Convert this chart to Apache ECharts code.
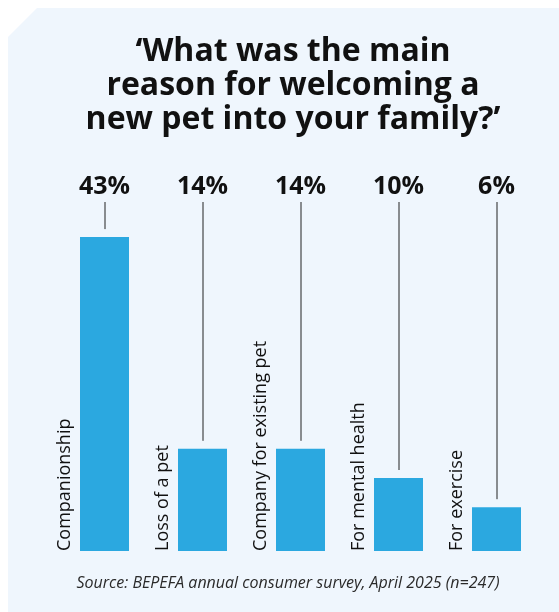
<!DOCTYPE html>
<html>
<head>
<meta charset="utf-8">
<script src="https://cdn.jsdelivr.net/npm/echarts@6/dist/echarts.min.js"></script>
<style>
html,body{margin:0;padding:0;background:#ffffff;}
#chart{width:559px;height:612px;}
</style>
</head>
<body>
<div id="chart"></div>
<script>
var titleLines = ["‘What was the main", "reason for welcoming a", "new pet into your family?’"];
var categories = ["Companionship", "Loss of a pet", "Company for existing pet", "For mental health", "For exercise"];
var values = [43, 14, 14, 10, 6];
var valueLabels = ["43%", "14%", "14%", "10%", "6%"];
var sourceText = "Source: BEPEFA annual consumer survey, April 2025 (n=247)";

var AXIS_MAX = 50;
var chart = echarts.init(document.getElementById('chart'), null, {renderer: 'canvas'});

var customData = values.map(function (v, i) { return [i, v]; });

var option = {
  backgroundColor: '#ffffff',
  animation: false,
  graphic: [
    {
      type: 'polygon',
      z: -10,
      shape: { points: [[8, 37], [37, 8], [559, 8], [559, 612], [8, 612]] },
      style: { fill: '#eff6fd' }
    },
    {
      type: 'text',
      x: 288, y: 583,
      style: {
        text: sourceText,
        font: 'italic 16px "Open Sans"',
        fill: '#2a2a2a',
        align: 'center',
        verticalAlign: 'middle',
        textAlign: 'center',
        textVerticalAlign: 'middle'
      }
    }
  ],
  title: {
    text: titleLines.join('\n'),
    left: 288,
    top: 30,
    textAlign: 'center',
    textStyle: {
      fontFamily: 'Open Sans',
      fontWeight: 'bold',
      fontSize: 32,
      lineHeight: 34,
      color: '#111111'
    }
  },
  grid: { left: 55.5, right: 13.5, top: 186, bottom: 61, containLabel: false },
  xAxis: {
    type: 'category',
    data: categories,
    axisLine: { show: false },
    axisTick: { show: false },
    axisLabel: { show: false },
    splitLine: { show: false }
  },
  yAxis: {
    type: 'value',
    min: 0,
    max: AXIS_MAX,
    show: false
  },
  series: [
    {
      type: 'bar',
      data: values,
      barWidth: '50%',
      itemStyle: { color: '#2ba8e0' },
      silent: true
    },
    {
      type: 'custom',
      data: customData,
      silent: true,
      renderItem: function (params, api) {
        var i = api.value(0);
        var v = api.value(1);
        var top = api.coord([i, AXIS_MAX]);
        var barTop = api.coord([i, v]);
        var base = api.coord([i, 0]);
        var half = api.size([1, 0])[0] * 0.25;
        return {
          type: 'group',
          children: [
            {
              type: 'text',
              x: top[0], y: top[1] + 1,
              style: {
                text: valueLabels[i],
                font: 'bold 25px "Open Sans"',
                fill: '#111111',
                align: 'center', verticalAlign: 'middle',
                textAlign: 'center', textVerticalAlign: 'middle'
              }
            },
            {
              type: 'line',
              shape: { x1: top[0] + 0.5, y1: top[1] + 16, x2: top[0] + 0.5, y2: barTop[1] - 8 },
              style: { stroke: '#222222', lineWidth: 1 }
            },
            {
              type: 'text',
              x: base[0] - half - 6, y: base[1],
              rotation: Math.PI / 2,
              style: {
                text: categories[i],
                font: '18px "Open Sans"',
                fill: '#111111',
                align: 'left', verticalAlign: 'bottom',
                textAlign: 'left', textVerticalAlign: 'bottom'
              }
            }
          ]
        };
      }
    }
  ]
};
chart.setOption(option);
</script>
</body>
</html>
